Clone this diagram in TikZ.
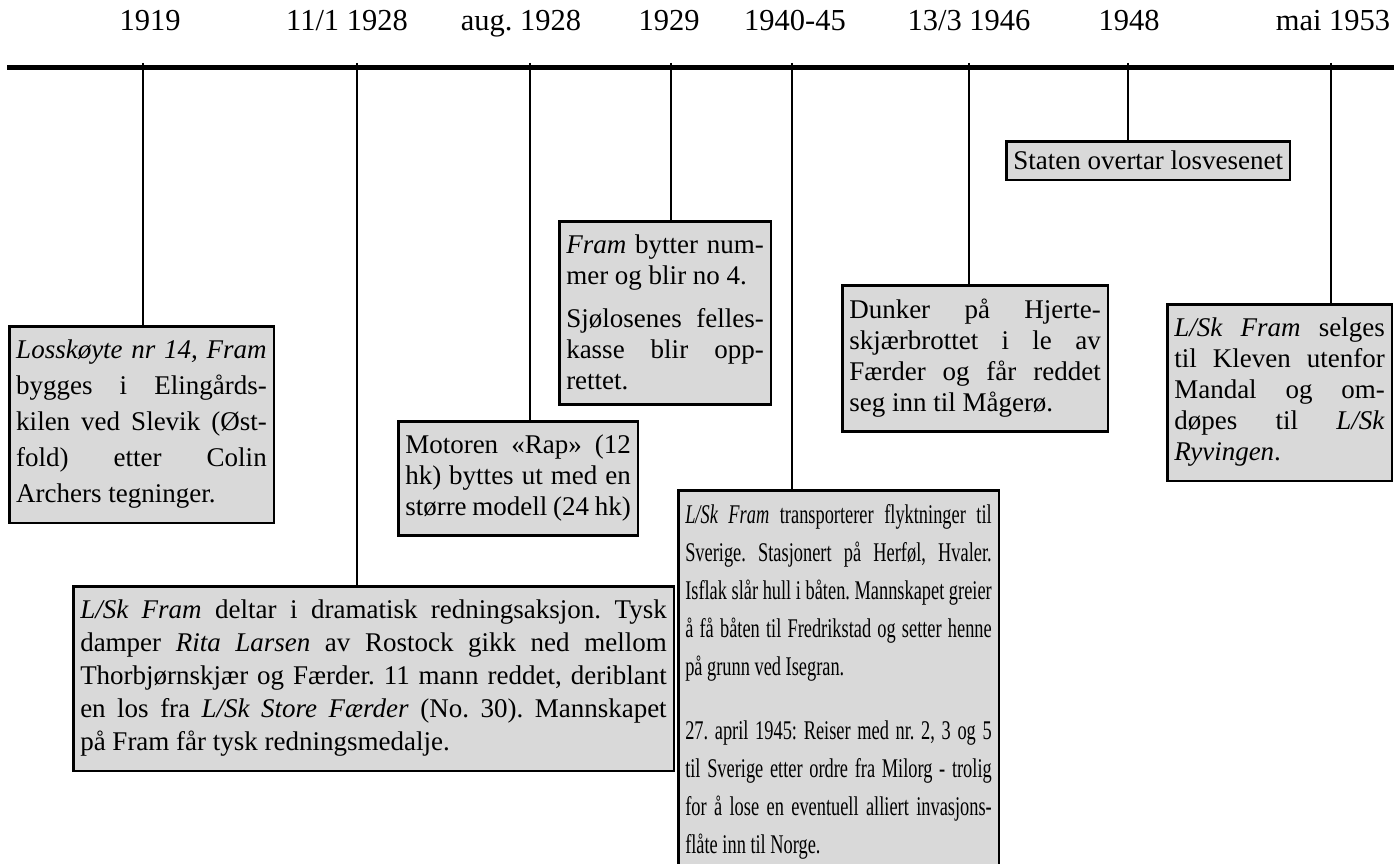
\documentclass[tikz,border=0pt]{standalone}
\usepackage{fontspec}
\setmainfont{Liberation Serif}
\newfontfamily\narrowfont[FakeStretch=0.68]{Liberation Serif}
\definecolor{boxgray}{gray}{0.85}
\setlength{\parindent}{0pt}
\frenchspacing
\hyphenpenalty=10000
\exhyphenpenalty=10000
\tolerance=10000

\begin{document}
\begin{tikzpicture}[x=1pt,y=-1pt,
  every node/.style={inner sep=0pt},
  year/.style={anchor=base,font=\fontsize{30.5}{36}\selectfont},
  event/.style={draw,line width=2.5pt,fill=boxgray,anchor=north west,
    inner xsep=7pt,inner ysep=14pt,align=justify,font=\fontsize{27}{#1}\selectfont},
  event/.default=36,
  tick/.style={line width=2pt}]
\useasboundingbox (0,0) rectangle (1394,864);

% time axis
\coordinate (start) at (7,68);
\coordinate (end) at (1394,68);
\draw[line width=5pt] (start) -- (end);

\node[year] (y1919) at (150,31) {1919};
\node[year] (y1928a) at (347,31) {11/1 1928};
\node[year] (y1928b) at (521,31) {aug. 1928};
\node[year] (y1929) at (669,31) {1929};
\node[year] (y1940) at (795,31) {1940-45};
\node[year] (y1946) at (969,31) {13/3 1946};
\node[year] (y1948) at (1129,31) {1948};
\node[year] (y1953) at (1333,31) {mai 1953};

\coordinate (t1919) at (143,63);
\coordinate (t1928a) at (357,63);
\coordinate (t1928b) at (530,63);
\coordinate (t1929) at (671,63);
\coordinate (t1940) at (792,63);
\coordinate (t1946) at (969,63);
\coordinate (t1948) at (1128,63);
\coordinate (t1953) at (1331,63);

% events
\node[event,text width=250.5pt] (b1919) at (8,325)
  {\textit{Losskøyte nr 14, Fram}\linebreak bygges i Elingårds-\linebreak kilen ved Slevik (Øst-\linebreak fold) etter Colin\linebreak Archers tegninger.};
\node[event=33,text width=586.5pt] (b1928a) at (72,585)
  {\textit{L/Sk Fram} deltar i dramatisk redningsaksjon. Tysk\linebreak damper \textit{Rita Larsen} av Rostock gikk ned mellom\linebreak Thorbjørnskjær og Færder. 11 mann reddet, deriblant\linebreak en los fra \textit{L/Sk Store Færder} (No. 30). Mannskapet\linebreak på Fram får tysk redningsmedalje.};
\node[event=31,text width=225.5pt] (b1928b) at (397,420)
  {Motoren «Rap» (12\linebreak hk) byttes ut med en\linebreak større modell (24~hk)};
\node[event=31,text width=197.5pt] (b1929) at (558,220)
  {\textit{Fram} bytter num-\linebreak mer og blir no 4.\par\vspace{12pt}Sjølosenes felles-\linebreak kasse blir opp-\linebreak rettet.};
\node[event,text width=306.5pt,font=\narrowfont\fontsize{27}{38}\selectfont] (b1940) at (677,489)
  {\textit{L/Sk Fram} transporterer flyktninger til\linebreak Sverige. Stasjonert på Herføl, Hvaler.\linebreak Isflak slår hull i båten. Mannskapet greier\linebreak å få båten til Fredrikstad og setter henne\linebreak på grunn ved Isegran.\par\vspace{26pt}27. april 1945: Reiser med nr. 2, 3 og 5\linebreak til Sverige etter ordre fra Milorg - trolig\linebreak for å lose en eventuell alliert invasjons-\linebreak flåte inn til Norge.};
\node[event=31,text width=251.5pt] (b1946) at (841,284)
  {Dunker på Hjerte-\linebreak skjærbrottet i le av\linebreak Færder og får reddet\linebreak seg inn til Mågerø.};
\node[event,inner ysep=10pt] (b1948) at (1005,140) {Staten overtar losvesenet};
\node[event=31,text width=210.5pt] (b1953) at (1166,303)
  {\textit{L/Sk Fram} selges\linebreak til Kleven utenfor\linebreak Mandal og om-\linebreak døpes til \textit{L/Sk}\linebreak \textit{Ryvingen}.};

% connectors
\draw[tick] (t1919) -- (t1919 |- b1919.north);
\draw[tick] (t1928a) -- (t1928a |- b1928a.north);
\draw[tick] (t1928b) -- (t1928b |- b1928b.north);
\draw[tick] (t1929) -- (t1929 |- b1929.north);
\draw[tick] (t1940) -- (t1940 |- b1940.north);
\draw[tick] (t1946) -- (t1946 |- b1946.north);
\draw[tick] (t1948) -- (t1948 |- b1948.north);
\draw[tick] (t1953) -- (t1953 |- b1953.north);
\end{tikzpicture}
\end{document}
